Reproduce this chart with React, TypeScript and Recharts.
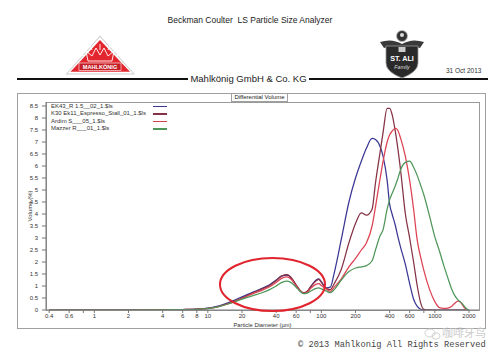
import React from 'react';
import { LineChart, Line, XAxis, YAxis } from 'recharts';

const diameters = [0.4, 1, 2, 4, 6, 8, 10, 12, 15, 20, 25, 30, 35, 40, 45, 50, 55, 60, 65, 70, 75, 80, 90, 95, 100, 110, 120, 130, 150, 175, 200, 225, 250, 280, 300, 330, 350, 380, 400, 420, 450, 470, 500, 550, 600, 650, 700, 750, 800, 900, 1000, 1100, 1200, 1300, 1400, 1500, 1600, 1700, 1800, 1900, 2000];

const ek43 = [0, 0, 0, 0.01, 0.02, 0.04, 0.08, 0.15, 0.3, 0.55, 0.75, 0.9, 1.05, 1.25, 1.42, 1.45, 1.3, 1.02, 0.8, 0.7, 0.76, 0.95, 1.25, 1.3, 1.18, 0.92, 0.95, 1.55, 2.95, 4.5, 5.5, 6.2, 6.75, 7.15, 7.1, 6.8, 6.4, 5.4, 4.4, 4.0, 3.5, 3.1, 2.6, 1.9, 1.1, 0.45, 0.15, 0.03, 0, 0, 0, 0, 0, 0, 0, 0, 0, 0, 0, 0, 0];

const k30 = [0, 0, 0, 0.01, 0.02, 0.04, 0.07, 0.13, 0.27, 0.5, 0.72, 0.88, 1.02, 1.22, 1.42, 1.47, 1.32, 1.05, 0.82, 0.72, 0.78, 0.95, 1.22, 1.28, 1.15, 0.9, 0.85, 1.1, 1.7, 2.8, 3.6, 4.05, 3.95, 4.2, 5.3, 6.6, 7.4, 8.4, 8.4, 8.15, 7.4, 6.8, 5.8, 4.0, 3.0, 2.0, 1.0, 0.3, 0.03, 0, 0, 0, 0, 0, 0, 0, 0, 0, 0, 0, 0];

const ardim = [0, 0, 0, 0.01, 0.02, 0.03, 0.06, 0.12, 0.25, 0.48, 0.68, 0.82, 0.97, 1.15, 1.33, 1.38, 1.25, 1.0, 0.8, 0.7, 0.74, 0.88, 1.08, 1.1, 1.02, 0.88, 0.78, 0.95, 1.3, 1.8, 2.15, 2.5, 2.8, 3.5, 4.3, 5.5, 6.2, 7.0, 7.3, 7.45, 7.57, 7.5, 7.15, 6.4, 5.4, 4.2, 2.9, 2.2, 1.65, 0.85, 0.35, 0.1, 0.07, 0.08, 0.15, 0.28, 0.37, 0.3, 0.12, 0.02, 0];

const mazzer = [0, 0, 0, 0.01, 0.015, 0.03, 0.06, 0.12, 0.25, 0.45, 0.6, 0.72, 0.85, 1.0, 1.15, 1.2, 1.12, 0.95, 0.78, 0.68, 0.7, 0.78, 0.9, 0.92, 0.88, 0.8, 0.72, 0.85, 1.25, 1.6, 1.75, 1.8, 1.85, 2.05, 2.5, 3.1, 3.35, 4.2, 4.6, 4.85, 5.2, 5.45, 5.85, 6.15, 6.2, 5.95, 5.6, 5.2, 4.8, 3.9, 3.05, 2.45, 1.85, 1.35, 0.9, 0.6, 0.42, 0.32, 0.18, 0.05, 0];

const seriesNames = ['EK43_R 1.5__02_1.$ls', 'K30 Ek11_Espresso_Stall_01_1.$ls', 'Ardim S___05_1.$ls', 'Mazzer R___01_1.$ls'];
const seriesKeys = ['ek43', 'k30', 'ardim', 'mazzer'];
const seriesColors = ['#3a3894', '#853245', '#dc4252', '#4f965a'];

const xTicks = [0.4, 0.6, 0.8, 1, 2, 4, 6, 8, 10, 20, 40, 60, 80, 100, 200, 400, 600, 800, 1000, 2000];
const xUnlabeled = [0.8, 80, 800];
const yTicks = [0, 0.5, 1, 1.5, 2, 2.5, 3, 3.5, 4, 4.5, 5, 5.5, 6, 6.5, 7, 7.5, 8, 8.5];

const data = diameters.map((d, i) => ({
  d,
  ek43: ek43[i],
  k30: k30[i],
  ardim: ardim[i],
  mazzer: mazzer[i],
}));

const FONT = '"Liberation Sans", Arial, Helvetica, sans-serif';

const YLabel = (props: any) => {
  const vb = props.viewBox || { x: 16, y: 102, width: 30, height: 208 };
  const cx = vb.x + 14;
  const cy = vb.y + vb.height / 2;
  return (
    <text x={cx} y={cy} transform={`rotate(-90 ${cx} ${cy})`} textAnchor="middle" dominantBaseline="central" fontSize={6} fill="#333" fontFamily={FONT}>
      Volume (%)
    </text>
  );
};

const XLabel = (props: any) => {
  const vb = props.viewBox || { x: 46, y: 310, width: 433, height: 20 };
  return (
    <text x={vb.x + vb.width / 2} y={vb.y + 17} textAnchor="middle" fontSize={5.8} fill="#333" fontFamily={FONT}>
      Particle Diameter (µm)
    </text>
  );
};

export default function App() {
  return (
    <div style={{ position: 'absolute', left: 0, top: 0, width: 500, height: 363, background: '#fff', overflow: 'hidden', fontFamily: FONT }}>
      {/* header */}
      <div style={{ position: 'absolute', left: 0, width: 500, top: 15, textAlign: 'center', fontSize: 8.5, color: '#222', lineHeight: '10px' }}>
        Beckman Coulter&nbsp; LS Particle Size Analyzer
      </div>
      <div style={{ position: 'absolute', left: 17, top: 78, width: 471, height: 2, background: '#111' }} />
      <div style={{ position: 'absolute', left: 188, top: 73, width: 121, textAlign: 'center', background: '#fff', fontSize: 9.5, lineHeight: '12px', color: '#222' }}>
        Mahlkönig GmbH &amp; Co. KG
      </div>
      <div style={{ position: 'absolute', left: 446, top: 67, fontSize: 6.5, lineHeight: '8px', color: '#333' }}>31 Oct 2013</div>

      {/* frames */}
      <div style={{ position: 'absolute', left: 17, top: 93, width: 469, height: 236, border: '1.5px solid #a0a0a0', boxSizing: 'border-box' }} />
      <div style={{ position: 'absolute', left: 46, top: 102, width: 434, height: 209, border: '1px solid #9a9a9a', boxSizing: 'border-box' }} />
      <div style={{ position: 'absolute', left: 231, top: 93, width: 57, height: 8.5, border: '1px solid #a0a0a0', boxSizing: 'border-box', background: '#fff', fontSize: 6, lineHeight: '6.5px', textAlign: 'center', color: '#222' }}>
        Differential Volume
      </div>

      <div style={{ position: 'absolute', left: 0, top: 0 }}>
        <LineChart width={500} height={363} data={data} margin={{ top: 102, right: 21, bottom: 33, left: 16 }}>
          <XAxis
            dataKey="d"
            type="number"
            scale="log"
            domain={[0.375, 2450]}
            allowDataOverflow
            ticks={xTicks}
            interval={0}
            tickFormatter={(v: number) => (xUnlabeled.includes(v) ? '' : String(v))}
            tick={{ fontSize: 6, fill: '#333', fontFamily: FONT }}
            tickSize={3}
            tickMargin={1}
            height={20}
            stroke="#777"
            label={<XLabel />}
          />
          <YAxis
            type="number"
            domain={[0, 8.667]}
            allowDataOverflow
            ticks={yTicks}
            interval={0}
            tickFormatter={(v: number) => String(v)}
            tick={{ fontSize: 6, fill: '#333', fontFamily: FONT }}
            tickSize={4}
            tickMargin={4}
            width={30}
            stroke="#777"
            label={<YLabel />}
          />
          {seriesKeys.map((k, i) => (
            <Line key={k} dataKey={k} name={seriesNames[i]} type="monotone" stroke={seriesColors[i]} strokeWidth={1.25} dot={false} isAnimationActive={false} />
          ))}
        </LineChart>
      </div>

      {/* legend */}
      <div style={{ position: 'absolute', left: 51, top: 102.5 }}>
        {seriesNames.map((n, i) => (
          <div key={n} style={{ position: 'relative', height: 7.5, lineHeight: '7.5px', fontSize: 6, color: '#333', whiteSpace: 'nowrap' }}>
            {n}
            <div style={{ position: 'absolute', left: 102, top: 3.4, width: 14, height: 1.3, background: seriesColors[i] }} />
          </div>
        ))}
      </div>

      {/* overlay: annotation + logos */}
      <svg width={500} height={363} style={{ position: 'absolute', left: 0, top: 0, pointerEvents: 'none' }}>
        <ellipse cx={272.5} cy={284.5} rx={52.5} ry={26.5} fill="none" stroke="#e0252e" strokeWidth={2} />

        {/* Mahlkonig logo */}
        <polygon points="100,35.5 65.5,74.5 135,74.5" fill="#cfcfcf" />
        <polygon points="100,37 67.5,73.5 133,73.5" fill="#ffffff" />
        <polygon points="100,40 70.5,71.8 130,71.8" fill="#e3262d" />
        <g stroke="#fff" strokeWidth={0.9} fill="none">
          <polyline points="88,61 86,51 92,56 96,48 100,55 104,48 108,56 114,51 112,61 88,61" />
          <line x1={100} y1={44} x2={100} y2={50} />
          <line x1={92} y1={50} x2={90} y2={46} />
          <line x1={108} y1={50} x2={110} y2={46} />
          <line x1={84} y1={56} x2={80} y2={54} />
          <line x1={116} y1={56} x2={120} y2={54} />
        </g>
        <rect x={79} y={63} width={42} height={7.5} fill="#c41f26" stroke="#fff" strokeWidth={0.6} />
        <text x={100} y={69} textAnchor="middle" fontSize={5.6} fontWeight="bold" fill="#fff" fontFamily={FONT}>MAHLKÖNIG</text>

        {/* St Ali logo */}
        <path d="M380,42 Q392,38 402,44 Q412,38 424,42 L420,48 Q411,45 402,49 Q393,45 384,48 Z" fill="#3a3a3a" />
        <path d="M386,46 L418,46 L418,63 Q418,72 402,78 Q386,72 386,63 Z" fill="#2a2a2a" stroke="#9a9a9a" strokeWidth={0.8} />
        <circle cx={402} cy={36} r={5.5} fill="#333" stroke="#bbb" strokeWidth={0.8} />
        <circle cx={402} cy={35} r={2} fill="#ddd" />
        <rect x={398.5} y={47} width={7} height={5} fill="#ccc" />
        <text x={402} y={61} textAnchor="middle" fontSize={7.2} fontWeight="bold" fill="#fff" fontFamily={FONT}>ST. ALI</text>
        <text x={402} y={69} textAnchor="middle" fontSize={5.2} fontStyle="italic" fill="#ddd" fontFamily={FONT}>Family</text>

        {/* watermark */}
        <g stroke="#c8c8c8" strokeWidth={0.9} fill="none" opacity={0.9}>
          <ellipse cx={430} cy={333} rx={5} ry={4} />
          <ellipse cx={436} cy={336} rx={4} ry={3.2} />
        </g>
      </svg>

      <div style={{ position: 'absolute', left: 442, top: 326, fontSize: 11, lineHeight: '13px', color: '#c4c4c4', fontFamily: '"Noto Sans CJK SC", sans-serif', opacity: 0.85 }}>咖啡牙鸟</div>

      <div style={{ position: 'absolute', left: 298, top: 340, fontSize: 8.7, lineHeight: '10px', color: '#444', fontFamily: '"Liberation Mono", "DejaVu Sans Mono", monospace', whiteSpace: 'nowrap' }}>
        © 2013 Mahlkonig All Rights Reserved
      </div>
    </div>
  );
}
